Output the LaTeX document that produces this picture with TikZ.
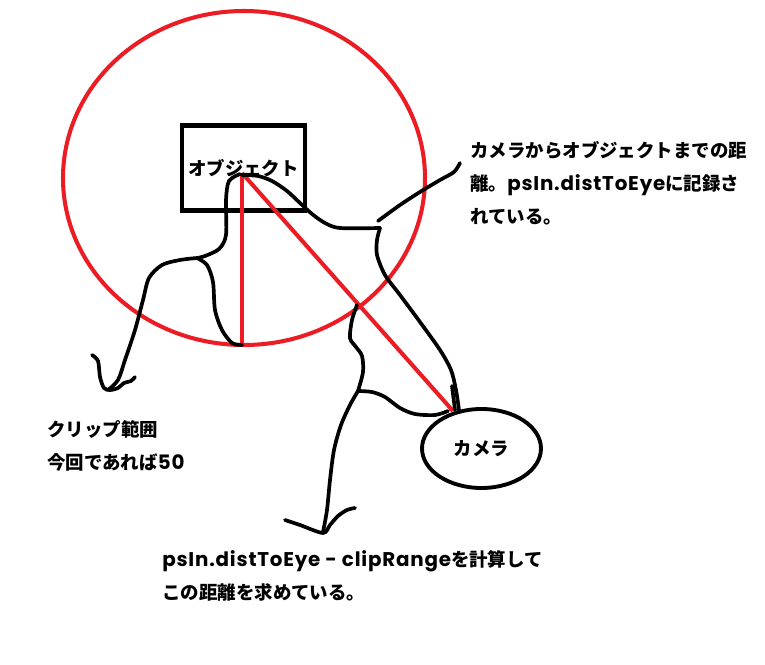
\documentclass[tikz,border=0pt]{standalone}
\usepackage{fontspec}
\setmainfont{Noto Sans CJK JP}
\newfontfamily\latinfont{Poppins}[LetterSpace=4]
\newcommand\lat[1]{{\latinfont\fontsize{11.3}{18.8}\selectfont #1}}
\usetikzlibrary{shapes.geometric}
\definecolor{paintred}{RGB}{236,28,36}

\begin{document}
\begin{tikzpicture}[x=0.02cm, y=-0.02cm,
    font=\fontsize{10.5}{18.8}\selectfont\bfseries,
    redline/.style={paintred, line width=2.3pt},
    pen/.style={line width=2.1pt, line cap=round, line join=round},
    note/.style={anchor=base west, inner sep=0pt, align=left}]
  \useasboundingbox (0,0) rectangle (765,665);
  % --- clip range ---
  \draw[redline] (244,178) ellipse [x radius=181, y radius=167];
  % --- object and camera ---
  \node[draw, line width=2.6pt, minimum width=2.46cm, minimum height=1.7cm] (obj) at (243.5,168) {オブジェクト};
  \node[draw, ellipse, line width=2.2pt, minimum width=2.38cm, minimum height=1.58cm] (cam) at (481.5,448.5) {カメラ};
  \coordinate (objpt) at (242,173);
  \coordinate (clipend) at (242,345);
  \coordinate (campt) at (453,411);
  \draw[redline] (objpt) -- (clipend);
  \draw[redline] (objpt) -- (campt);
  % --- notes (anchored at the last line) ---
  \node[note] (distnote) at (470,224) {カメラからオブジェクトまでの距\\離。\lat{psIn.distToEye}に記録さ\\れている。};
  \node[note] (clipnote) at (47,470) {クリップ範囲\\今回であれば\lat{50}};
  \node[note] (calcnote) at (162,600) {\lat{psIn.distToEye - clipRange}を計算して\\この距離を求めている。};
  % --- left brace: clip range ---
  \coordinate (leftjoin) at (197,258);
  \draw[pen] plot[smooth, tension=0.5] coordinates {(240,174) (229,181) (226,200) (226,235) (219,249) (205,256) (leftjoin)};
  \draw[pen] plot[smooth, tension=0.5] coordinates {(leftjoin) (207,265) (213,282) (215,310) (222,330) (232,343) (clipend)};
  \draw[pen] plot[smooth, tension=0.5] coordinates {(leftjoin) (180,260) (162,265) (149,278) (143,300) (135,330) (125,360) (118,380) (108,390)};
  \draw[pen] plot[smooth, tension=0.5] coordinates {(92,355) (98,361) (100,377) (104,388) (110,390) (118,388) (124,383) (131,381) (135,377)};
  % --- diagonal brace: distToEye ---
  \coordinate (diagjoin) at (380,228);
  \draw[pen] plot[smooth, tension=0.5] coordinates {(242,175) (258,176) (272,181) (287,191) (300,203) (312,214) (325,223) (340,228) (diagjoin)};
  \draw[pen] plot[smooth, tension=0.5] coordinates {(diagjoin) (377,240) (377,255) (385,275) (400,295) (420,322) (440,350) (451,370) (456,390) (459,410)};
  \draw[pen] (452,386) -- (455,410);
  \draw[pen] plot[smooth, tension=0.5] coordinates {(378,221) (400,205) (420,192) (440,180) (454,172) (460,163)};
  % --- lower brace: remaining distance ---
  \coordinate (lowjoin) at (358,391);
  \draw[pen] plot[smooth, tension=0.5] coordinates {(357,305) (352,320) (350,338) (356,347) (362,356) (363,372) (lowjoin)};
  \draw[pen] plot[smooth, tension=0.5] coordinates {(lowjoin) (372,392) (385,397) (400,408) (415,414) (435,415) (448,411)};
  \draw[pen] plot[smooth, tension=0.5] coordinates {(lowjoin) (350,405) (341,425) (334,450) (330,480) (327,510) (323,532)};
  \draw[pen] plot[smooth, tension=0.5] coordinates {(285,520) (300,525) (323,533) (330,525) (338,516) (347,510) (355,508)};
\end{tikzpicture}
\end{document}
